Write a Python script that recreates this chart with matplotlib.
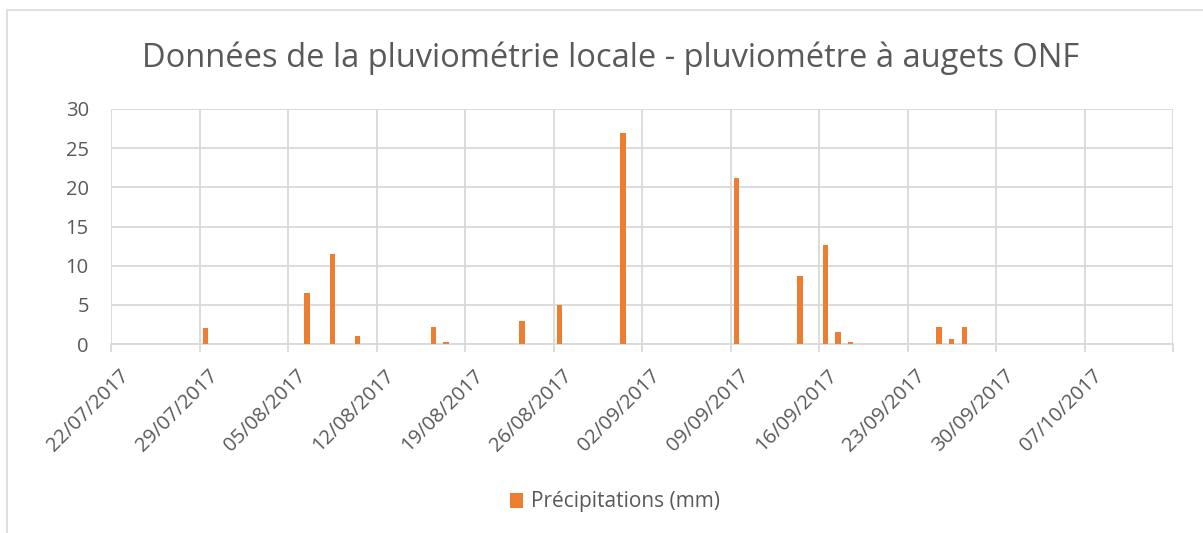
import matplotlib
matplotlib.use("Agg")
import matplotlib.pyplot as plt
import matplotlib.dates as mdates
from matplotlib.patches import Rectangle
from matplotlib.transforms import ScaledTranslation
import numpy as np
import pandas as pd

# Daily rainfall recorded by the tipping-bucket gauge (mm)
rain_dates = ["2017-07-29", "2017-08-06", "2017-08-08", "2017-08-10",
              "2017-08-16", "2017-08-17", "2017-08-23", "2017-08-26",
              "2017-08-31", "2017-09-09", "2017-09-14", "2017-09-16",
              "2017-09-17", "2017-09-18", "2017-09-25", "2017-09-26",
              "2017-09-27"]
rain_mm = [2.0, 6.5, 11.5, 1.0,
           2.2, 0.2, 3.0, 5.0,
           27.0, 21.2, 8.7, 12.7,
           1.5, 0.2, 2.2, 0.7,
           2.2]

axis_start = "2017-07-22"
axis_end = "2017-10-14"
y_ticks = [0, 5, 10, 15, 20, 25, 30]

title = "Données de la pluviométrie locale - pluviométre à augets ONF"
series_label = "Précipitations (mm)"

bar_color = "#ED7D31"
text_color = "#595959"
grid_color = "#D9D9D9"

plt.rcParams["font.family"] = ["Open Sans", "DejaVu Sans"]

W, H = 1203, 533
fig = plt.figure(figsize=(W / 100, H / 100), dpi=100)
fig.patch.set_facecolor("white")

# Chart frame
fig.patches.append(Rectangle((7 / W, -0.1), 1.2, 1 - 10 / H + 0.1,
                             transform=fig.transFigure, fill=False,
                             edgecolor=grid_color, linewidth=1.2))

ax = fig.add_axes([111 / W, 1 - 344 / H, (1173 - 111) / W, (344 - 109) / H])

dates = pd.to_datetime(rain_dates)
x = mdates.date2num(dates) + 0.5
ax.bar(x, rain_mm, width=0.42, color=bar_color, zorder=3,
       label=series_label)

x0 = mdates.date2num(pd.Timestamp(axis_start))
x1 = mdates.date2num(pd.Timestamp(axis_end))
ax.set_xlim(x0, x1)
ax.set_ylim(0, 30)

# Weekly ticks; the date labels are placed as rotated texts under each tick
week_ticks = np.arange(x0, x1 + 0.1, 7)
ax.set_xticks(week_ticks)
ax.set_xticklabels([])
label_tr = ax.get_xaxis_transform() + ScaledTranslation(8 / 100, -22 / 100,
                                                        fig.dpi_scale_trans)
for t in week_ticks[:-1]:
    ax.text(t, 0, mdates.num2date(t).strftime("%d/%m/%Y"),
            transform=label_tr, rotation=45, ha="right", va="top",
            rotation_mode="anchor", fontsize=14.5, color=text_color)

ax.set_yticks(y_ticks)
ax.set_yticklabels([str(v) for v in y_ticks], fontsize=14.5, color=text_color)

ax.grid(True, color=grid_color, linewidth=1.3, zorder=0)
ax.set_axisbelow(True)
for side in ["top", "left", "right"]:
    ax.spines[side].set_visible(False)
ax.spines["bottom"].set_color(grid_color)
ax.spines["bottom"].set_linewidth(1.3)
ax.tick_params(axis="x", length=6, color=grid_color, width=1.3, pad=0)
ax.tick_params(axis="y", length=0, pad=16)

fig.text(611 / W, 1 - 58 / H, title, ha="center", va="center",
         fontsize=23.5, color=text_color)

leg = fig.legend(loc="center", bbox_to_anchor=(615 / W, 1 - 502 / H),
                 frameon=False, fontsize=15, handlelength=0.65,
                 handleheight=0.75, handletextpad=0.4)
for t in leg.get_texts():
    t.set_color(text_color)

fig.savefig("out.png", dpi=100, facecolor="white")
